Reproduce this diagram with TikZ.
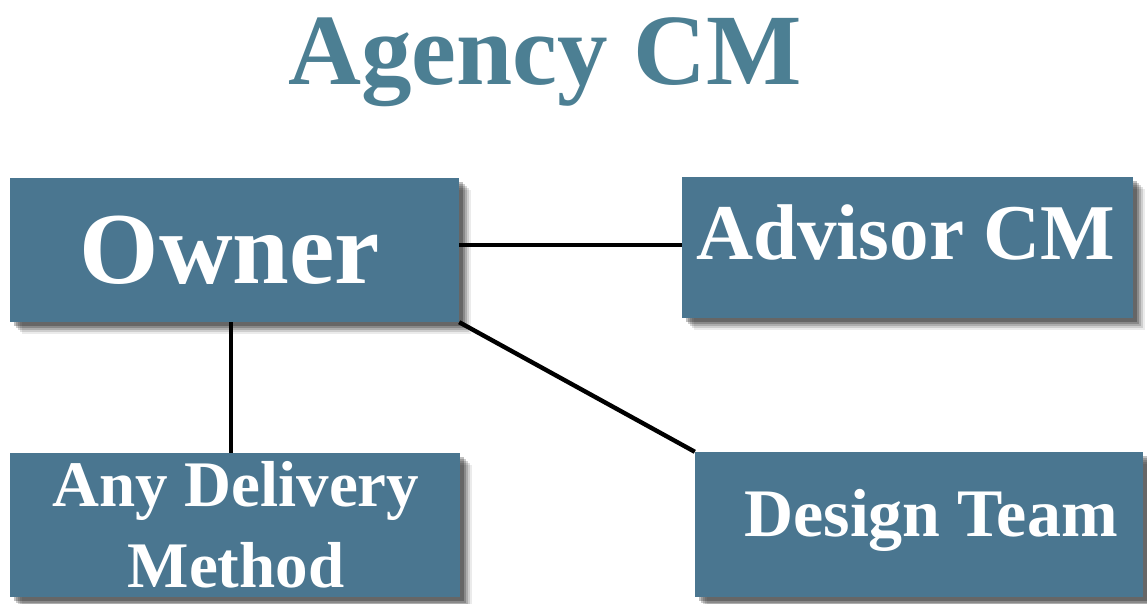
\documentclass[tikz,border=0pt]{standalone}
\usepackage{fontspec}
\setmainfont{Liberation Serif}
\usetikzlibrary{positioning}
\definecolor{boxblue}{HTML}{4A7690}
\definecolor{titleblue}{HTML}{4C7F93}
\tikzset{
  box/.style={fill=boxblue, draw=none, inner sep=0pt, text=white, font=\bfseries, align=center},
  link/.style={draw=black, line width=4.4pt},
}
\newcommand{\shadowbox}[4]{%
  \foreach \o/\a in {12/0.08,10/0.12,8/0.16,6/0.2,4/0.25}{%
    \fill[black, opacity=\a] (#1+\o,#2+\o) rectangle (#3+\o,#4+\o);}%
}
\begin{document}
\begin{tikzpicture}[x=1pt,y=-1pt]
\useasboundingbox (0,0) rectangle (1147,603);
\fill[white] (0,0) rectangle (1147,603);
\node[text=titleblue, font=\bfseries\fontsize{101}{110}\selectfont, anchor=base] (title) at (545,84) {Agency CM};
% shadows
\shadowbox{10}{178}{459}{322}
\shadowbox{10}{453}{460}{597}
\shadowbox{682}{177}{1133}{318}
\shadowbox{695}{452}{1143}{597}
% boxes
\node[box, minimum width=449pt, minimum height=144pt] (owner) at (234.5,250) {};
\node[text=white, font=\bfseries\fontsize{102}{110}\selectfont, anchor=base] (ownert) at (230,283) {Owner};
\node[box, minimum width=450pt, minimum height=144pt] (any) at (235,525) {};
\node[text=white, font=\bfseries\fontsize{65}{70}\selectfont, anchor=base] (anyt1) at (236,506) {Any Delivery};
\node[text=white, font=\bfseries\fontsize{65}{70}\selectfont, anchor=base] (anyt2) at (236,587) {Method};
\node[box, minimum width=451pt, minimum height=141pt] (adv) at (907.5,247.5) {};
\node[text=white, font=\bfseries\fontsize{79}{85}\selectfont, anchor=base] (advt) at (906,259) {Advisor CM};
\node[box, minimum width=448pt, minimum height=145pt] (des) at (919,524.5) {};
\node[text=white, font=\bfseries\fontsize{68}{75}\selectfont, anchor=base] (dest) at (931,536) {Design Team};
% connectors
\draw[link] (owner.east |- 0,245) -- (adv.west |- 0,245);
\draw[link] (owner.south -| 231,0) -- (any.north -| 231,0);
\draw[link] (owner.south east) -- (des.north west);
\end{tikzpicture}
\end{document}
